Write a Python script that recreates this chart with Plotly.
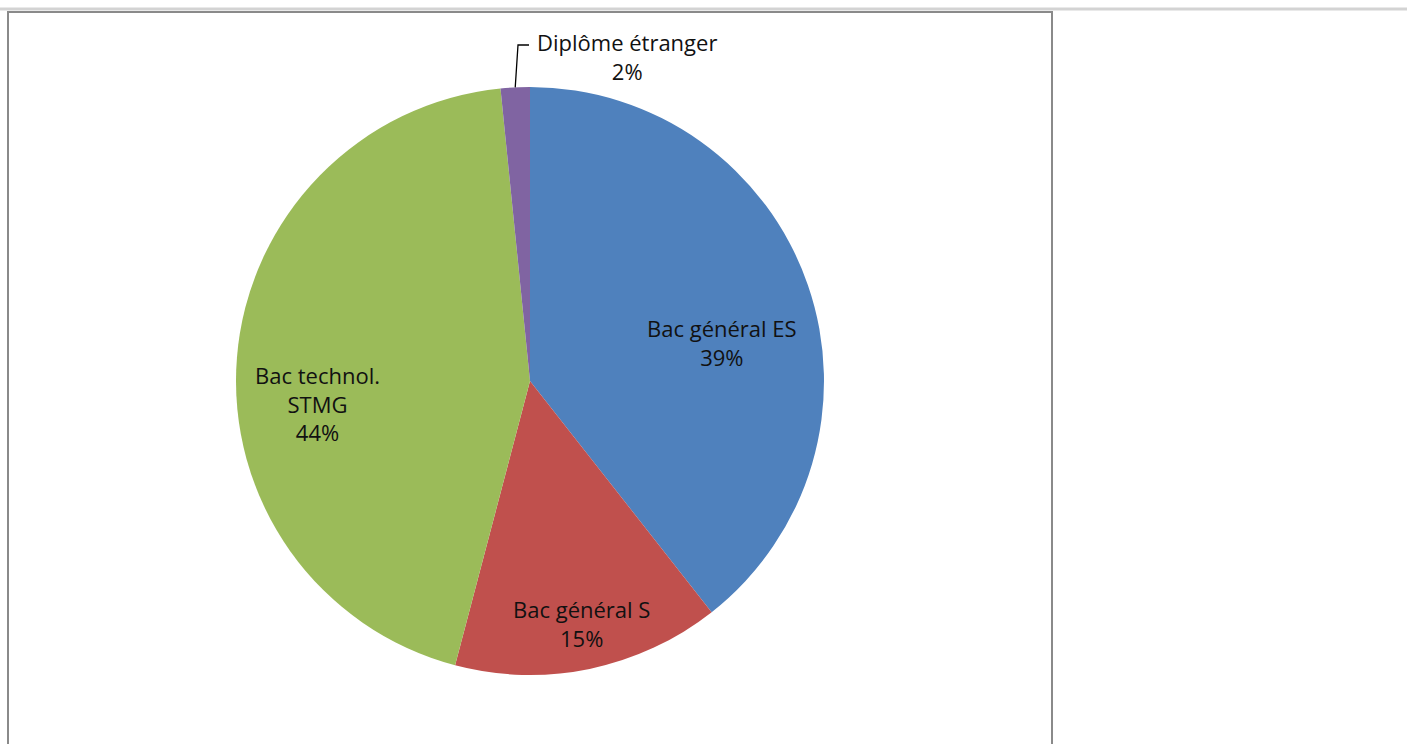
import math
import plotly.graph_objects as go

labels = ["Bac général ES", "Bac général S", "Bac technol.<br>STMG", "Diplôme étranger"]
values = [39.4, 14.7, 44.3, 1.6]
colors = ["#4F81BD", "#C0504D", "#9BBB59", "#8064A2"]

W, H = 1407, 744
cx, cy, R = 530, 381, 294  # pie centre / radius in px

# label centres in px (style/layout, not data)
label_pos = [(722, 343), (581, 623), (317, 403), (627, 56)]

FONT = dict(family="Open Sans", size=22, color="#111111")


def px2paper(x, y):
    return x / W, 1 - y / H


fig = go.Figure()
fig.add_trace(go.Pie(
    labels=labels,
    values=values,
    sort=False,
    direction="clockwise",
    rotation=0,
    marker=dict(colors=colors, line=dict(width=0)),
    textinfo="none",
    showlegend=False,
    hoverinfo="label+percent",
    domain=dict(x=[(cx - R) / W, (cx + R) / W], y=[1 - (cy + R) / H, 1 - (cy - R) / H]),
))

total = sum(values)
for lab, v, (lx, ly) in zip(labels, values, label_pos):
    ax_, ay_ = px2paper(lx, ly)
    fig.add_annotation(x=ax_, y=ay_, xref="paper", yref="paper",
                       text=f"{lab}<br>{round(v / total * 100)}%", showarrow=False,
                       font=FONT, align="center", xanchor="center", yanchor="middle")

# leader line for the small slice
start = sum(values[:3]) / total * 360
mid = start + values[3] / total * 360 / 2
sx = cx + R * math.sin(math.radians(mid))
sy = cy - R * math.cos(math.radians(mid))
ex, ey = 518, 45
p0, p1, p2 = px2paper(sx, sy), px2paper(ex, ey), px2paper(ex + 11, ey)
fig.add_shape(type="path",
              path=f"M {p0[0]} {p0[1]} L {p1[0]} {p1[1]} L {p2[0]} {p2[1]}",
              xref="paper", yref="paper", line=dict(color="#000000", width=1.3))

# frame
fig.add_shape(type="line", x0=0, x1=1, y0=1 - 9 / H, y1=1 - 9 / H, xref="paper", yref="paper",
              line=dict(color="#d3d3d3", width=3))
fig.add_shape(type="rect", x0=8 / W, x1=1052 / W, y0=-0.05, y1=1 - 12 / H, xref="paper", yref="paper",
              line=dict(color="#8a8a8a", width=2))

fig.update_layout(width=W, height=H, margin=dict(l=0, r=0, t=0, b=0),
                  paper_bgcolor="white", plot_bgcolor="white")
fig.write_html("out.html", config={"displayModeBar": False},
               post_script="document.body.style.margin='0';")
